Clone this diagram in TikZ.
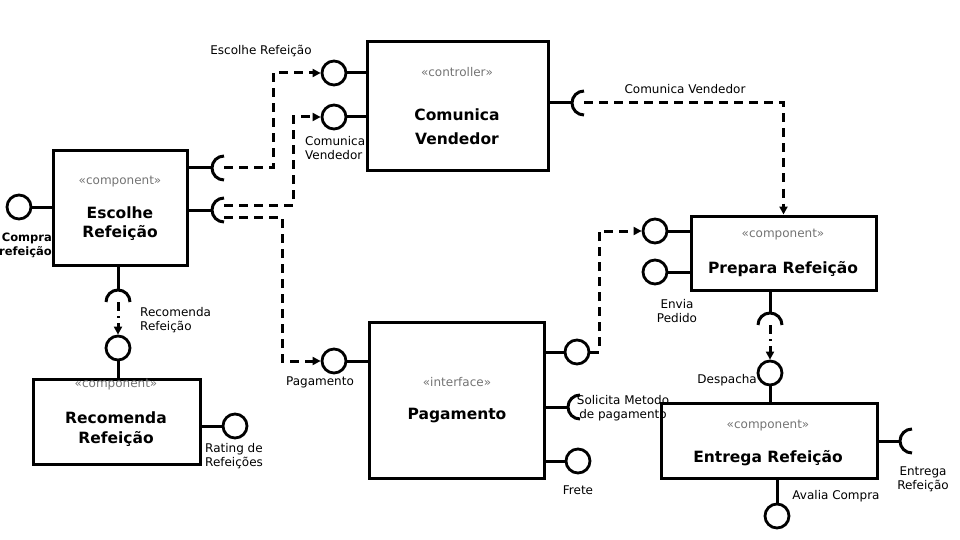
\documentclass[tikz,border=0pt]{standalone}
\usepackage{fontspec}
\setmainfont{DejaVu Sans}
\usepackage{tikz}
\usetikzlibrary{arrows.meta,calc}
\definecolor{stereogray}{RGB}{115,115,115}
\newcommand{\socketright}[1]{\draw[conn] ([yshift=12pt]#1) arc[start angle=90,end angle=270,radius=12pt];}
\newcommand{\socketdown}[1]{\draw[conn] ([xshift=12pt]#1) arc[start angle=0,end angle=180,radius=12pt];}

\begin{document}
\begin{tikzpicture}[x=1pt, y=-1pt,
    box/.style={draw, line width=3pt, inner sep=0pt},
    lolli/.style={draw, circle, line width=2.8pt, minimum size=24pt, inner sep=0pt},
    conn/.style={line width=3pt},
    dep/.style={line width=3pt, dash pattern=on 9pt off 6pt, -{Triangle[length=8pt,width=8pt]}},
    depdot/.style={line width=3pt, dash pattern=on 9pt off 5pt on 2pt off 5pt, -{Triangle[length=8pt,width=8pt]}},
    stereo/.style={text=stereogray, font=\fontsize{12}{14}\selectfont, inner sep=0pt},
    title/.style={font=\bfseries\fontsize{15.5}{19}\selectfont, align=center, inner sep=0pt},
    lbl/.style={font=\fontsize{12}{14}\selectfont, align=center, inner sep=0pt}]
  \useasboundingbox (0,0) rectangle (960,540);

  % Escolhe Refeicao
  \node[box, minimum width=134pt, minimum height=114pt] (escolhe) at (120,208) {};
  \node[stereo] at (120,182) {«component»};
  \node[title] at (120,224) {Escolhe\\Refeição};
  \node[lolli] (buyIn) at (19,207) {};
  \coordinate (esOut1) at (224,168);
  \coordinate (esOut2) at (224,210);
  \coordinate (esDown) at (118,302);
  \draw[conn] (escolhe.west |- buyIn) -- (buyIn);
  \draw[conn] (escolhe.east |- esOut1) -- ([xshift=-12pt]esOut1);
  \socketright{esOut1}
  \draw[conn] (escolhe.east |- esOut2) -- ([xshift=-12pt]esOut2);
  \socketright{esOut2}
  \draw[conn] (escolhe.south -| esDown) -- ([yshift=12pt]esDown);
  \socketdown{esDown}
  \node[lbl, font=\bfseries\fontsize{11.5}{14}\selectfont, align=right, anchor=east] (buyLbl) at (52,245) {Compra\\refeição};

  % Comunica Vendedor
  \node[box, minimum width=181pt, minimum height=129pt] (comunica) at (457.5,106) {};
  \node[stereo] at (457,72) {«controller»};
  \node[title, font=\bfseries\fontsize{15.5}{24}\selectfont] at (457,127) {Comunica\\Vendedor};
  \node[lolli] (cvIn1) at (334,73) {};
  \node[lolli] (cvIn2) at (334,117) {};
  \coordinate (cvOut) at (584,103);
  \draw[conn] (comunica.west |- cvIn1) -- (cvIn1);
  \draw[conn] (comunica.west |- cvIn2) -- (cvIn2);
  \draw[conn] (comunica.east |- cvOut) -- ([xshift=-12pt]cvOut);
  \socketright{cvOut}
  \node[lbl] (cvIn1Lbl) at (261,51) {Escolhe Refeição};
  \node[lbl, align=left, anchor=west] (cvIn2Lbl) at (305,148) {Comunica\\Vendedor};
  \node[lbl] (cvOutLbl) at (685,89) {Comunica Vendedor};

  % Recomenda Refeicao
  \node[box, minimum width=167pt, minimum height=85pt] (recomenda) at (116.5,421.5) {};
  \node[stereo] at (116,385) {«component»};
  \node[title, font=\bfseries\fontsize{15.5}{20}\selectfont] at (116,429) {Recomenda\\Refeição};
  \node[lolli] (recIn) at (118,348) {};
  \node[lolli] (rating) at (235,426) {};
  \draw[conn] (recIn) -- (recIn |- recomenda.north);
  \draw[conn] (recomenda.east |- rating) -- (rating);
  \node[lbl, align=left, anchor=west] (recLbl) at (140,320) {Recomenda\\Refeição};
  \node[lbl, align=left, anchor=west] (ratingLbl) at (205,456) {Rating de\\Refeições};

  % Pagamento
  \node[box, minimum width=175pt, minimum height=156pt] (pagamento) at (456.5,400) {};
  \node[stereo] at (457,382) {«interface»};
  \node[title] at (457,416) {Pagamento};
  \node[lolli] (pagIn) at (334,361) {};
  \node[lolli] (pagOut) at (577,352) {};
  \coordinate (pagSock) at (580,407);
  \node[lolli] (frete) at (578,461) {};
  \draw[conn] (pagamento.west |- pagIn) -- (pagIn);
  \draw[conn] (pagamento.east |- pagOut) -- (pagOut);
  \draw[conn] (pagamento.east |- pagSock) -- ([xshift=-12pt]pagSock);
  \socketright{pagSock}
  \draw[conn] (pagamento.east |- frete) -- (frete);
  \node[lbl] (pagInLbl) at (320,382) {Pagamento};
  \node[lbl] (freteLbl) at (578,490) {Frete};

  % Prepara Refeicao
  \node[box, minimum width=185pt, minimum height=74pt] (prepara) at (783.5,253) {};
  \node[stereo] at (783,235) {«component»};
  \node[title] at (783,269) {Prepara Refeição};
  \node[lolli] (prepIn) at (655,231) {};
  \node[lolli] (envia) at (655,272) {};
  \coordinate (prepDown) at (770,325);
  \draw[conn] (prepara.west |- prepIn) -- (prepIn);
  \draw[conn] (prepara.west |- envia) -- (envia);
  \draw[conn] (prepara.south -| prepDown) -- ([yshift=12pt]prepDown);
  \socketdown{prepDown}
  \node[lbl] (enviaLbl) at (677,311) {Envia\\Pedido};

  % Entrega Refeicao
  \node[box, minimum width=216pt, minimum height=75pt] (entrega) at (769,440.5) {};
  \node[stereo] at (768,426) {«component»};
  \node[title] at (768,458) {Entrega Refeição};
  \node[lolli] (desp) at (770,373) {};
  \coordinate (entOut) at (912,441);
  \node[lolli] (avalia) at (777,516) {};
  \draw[conn] (desp) -- (desp |- entrega.north);
  \draw[conn] (entrega.east |- entOut) -- ([xshift=-12pt]entOut);
  \socketright{entOut}
  \draw[conn] (entrega.south -| avalia) -- (avalia);
  \node[lbl, anchor=east] (despLbl) at (757,380) {Despacha};
  \node[lbl] (entOutLbl) at (923,479) {Entrega\\Refeição};
  \node[lbl] (avaliaLbl) at (836,496) {Avalia Compra};
  \node[lbl] (pagSockLbl) at (623,408) {Solicita Metodo\\de pagamento};

  % dependencies
  \draw[dep] (esOut1) -- ++(49,0) |- (cvIn1);
  \draw[dep] ([yshift=5pt]esOut2) -- ++(69,0) |- (cvIn2);
  \draw[dep] ([yshift=-7pt]esOut2) -- ++(58,0) |- (pagIn);
  \draw[dep] (pagOut.east) -- ++(9,0) |- (prepIn);
  \draw[dep] (cvOut) -| (prepara.north);
  \draw[depdot] (esDown) -- (recIn);
  \draw[depdot] (prepDown) -- (desp);
\end{tikzpicture}
\end{document}
